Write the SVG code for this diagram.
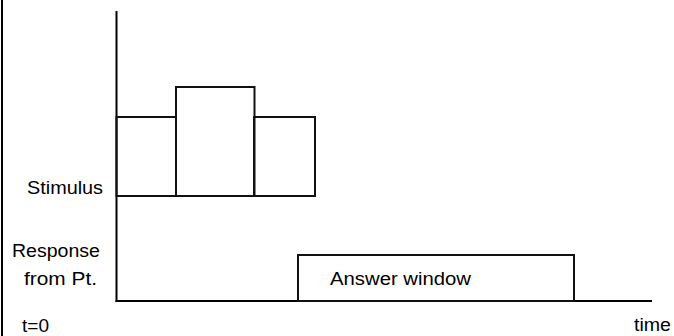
<svg xmlns="http://www.w3.org/2000/svg" width="674" height="336" viewBox="0 0 674 336">
<style>
.ln{fill:none;stroke:#000;stroke-width:2;stroke-linecap:square}
.box{fill:none;stroke:#111;stroke-width:2}
.t{font-family:"Liberation Sans",Arial,sans-serif;font-size:17.5px;fill:#000}
</style>
<rect width="674" height="336" fill="#fff"/>
<g id="frame"><line class="ln" x1="2" y1="0" x2="2" y2="336"/></g>
<g id="connectors">
<line class="ln" x1="116.5" y1="12" x2="116.5" y2="301"/>
<line class="ln" x1="116.5" y1="301" x2="651" y2="301"/>
</g>
<g id="stimulus-pulse-1"><rect class="box" x="116.5" y="117" width="59.5" height="79"/></g>
<g id="stimulus-pulse-2"><rect class="box" x="176" y="87" width="78.5" height="109"/></g>
<g id="stimulus-pulse-3"><rect class="box" x="254" y="117" width="61" height="79"/></g>
<g id="answer-window">
<rect class="box" x="298" y="255" width="276" height="46"/>
<text class="t" x="330" y="285" textLength="141" lengthAdjust="spacingAndGlyphs">Answer window</text>
</g>
<g id="label-stimulus"><text class="t" x="27" y="194" textLength="76" lengthAdjust="spacingAndGlyphs">Stimulus</text></g>
<g id="label-response">
<text class="t" x="12" y="257" textLength="88" lengthAdjust="spacingAndGlyphs">Response</text>
<text class="t" x="24" y="285" textLength="73" lengthAdjust="spacingAndGlyphs">from Pt.</text>
</g>
<g id="label-t0"><text class="t" x="22" y="332" textLength="27" lengthAdjust="spacingAndGlyphs">t=0</text></g>
<g id="label-time"><text class="t" x="634" y="331" textLength="37" lengthAdjust="spacingAndGlyphs">time</text></g>
</svg>
